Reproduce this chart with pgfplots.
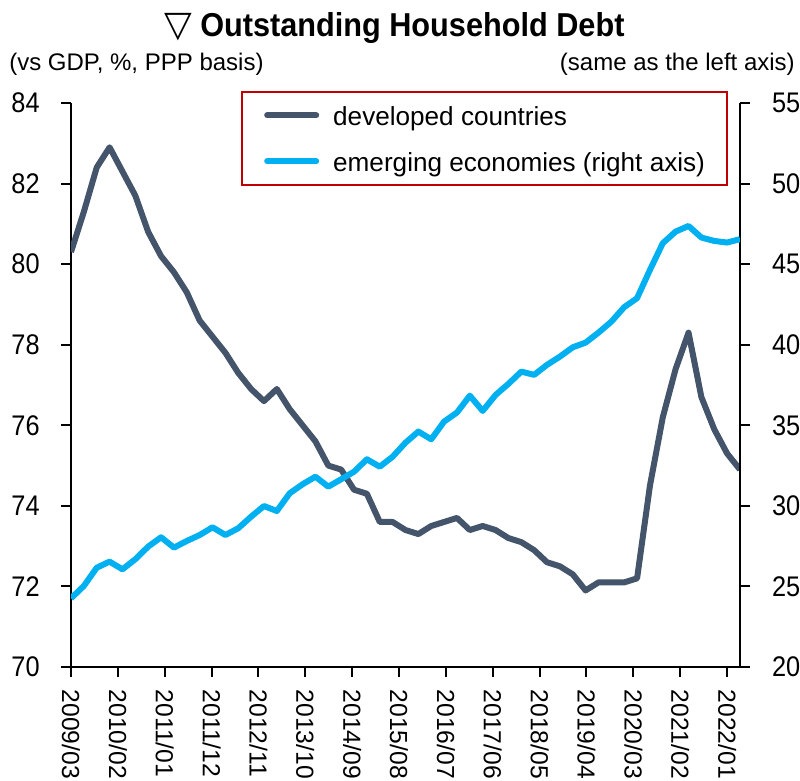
\documentclass[border=0pt]{standalone}
\usepackage{fontspec}
\setmainfont{Liberation Sans}
\newfontfamily\dejavu{DejaVu Sans}
\usepackage{pgfplots}
\usepackage{pgfplotstable}
\pgfplotsset{compat=1.18}
\definecolor{devc}{HTML}{44546A}
\definecolor{emgc}{HTML}{00B0F0}
\definecolor{legred}{HTML}{C00000}

\pgfplotstableread{
i dev emg
0 80.3 24.26
1 81.3 25.03
2 82.4 26.16
3 82.9 26.54
4 82.3 26.06
5 81.7 26.69
6 80.8 27.47
7 80.2 28.05
8 79.8 27.41
9 79.3 27.82
10 78.6 28.19
11 78.2 28.67
12 77.8 28.19
13 77.3 28.61
14 76.9 29.33
15 76.6 29.99
16 76.9 29.68
17 76.4 30.78
18 76.0 31.34
19 75.6 31.81
20 75.0 31.19
21 74.9 31.65
22 74.4 32.12
23 74.3 32.89
24 73.6 32.43
25 73.6 33.05
26 73.4 33.92
27 73.3 34.61
28 73.5 34.13
29 73.6 35.23
30 73.7 35.79
31 73.4 36.84
32 73.5 35.89
33 73.4 36.88
34 73.2 37.57
35 73.1 38.33
36 72.9 38.13
37 72.6 38.75
38 72.5 39.26
39 72.3 39.84
40 71.9 40.13
41 72.1 40.75
42 72.1 41.43
43 72.1 42.33
44 72.2 42.89
45 74.5 44.64
46 76.2 46.30
47 77.4 47.02
48 78.3 47.37
49 76.7 46.65
50 75.9 46.44
51 75.3 46.34
52 74.9 46.55
}\datatable

\begin{document}
\begin{tikzpicture}
\pgfplotsset{
  common/.style={
    scale only axis, width=501.75pt, height=423pt,
    at={(0pt,0pt)}, anchor=south west,
    xmin=0, xmax=52,
    tick align=outside, major tick length=7.5pt,
    axis line style={line width=1.5pt, black, -},
    major tick style={line width=1.5pt, black},
    /pgf/number format/assume math mode=true,
  }
}
\begin{axis}[common,
  axis x line*=bottom, axis y line*=left,
  ymin=70, ymax=84, ytick={70,72,...,84},
  yticklabel style={font=\fontsize{19pt}{22pt}\selectfont, xshift=-12.5pt, yscale=1.12},
  xtick={0,3.6425,7.285,10.9275,14.57,18.2125,21.855,25.4975,29.14,32.7825,36.425,40.0675,43.71,47.3525,50.995},
  xticklabels={2009/03,2010/02,2011/01,2011/12,2012/11,2013/10,2014/09,2015/08,2016/07,2017/06,2018/05,2019/04,2020/03,2021/02,2022/01},
  xticklabel style={rotate=-90, anchor=west, font=\fontsize{18.5pt}{20pt}\selectfont},
  xticklabel shift=6pt,
]
\addplot[devc, line width=4.5pt, line join=round] table[x=i,y=dev]{\datatable};
\end{axis}
\begin{axis}[common,
  axis x line=none, axis y line*=right,
  ymin=20, ymax=55, ytick={20,25,...,55},
  yticklabel style={font=\fontsize{19pt}{22pt}\selectfont, xshift=13pt, yscale=1.12},
  legend image code/.code={\draw[#1, line cap=round] (0pt,0pt) -- (36.75pt,0pt);},
  legend cell align=left,
  legend style={at={(rel axis cs:0.9821,1.0218)}, anchor=north east,
    draw=legred, line width=1.5pt, fill=white,
    inner xsep=16.5pt, inner ysep=8.5pt,
    font=\fontsize{19.6pt}{23pt}\selectfont,
    row sep=16pt, column sep=10.5pt,
    nodes={inner sep=0pt, text height=17pt, text depth=1.5pt}},
]
\addlegendimage{devc, line width=4.5pt}
\addlegendentry{developed countries}
\addplot[emgc, line width=4.5pt, line join=round] table[x=i,y=emg]{\datatable};
\addlegendentry{emerging economies (right axis)}
\end{axis}
\node[anchor=base, inner sep=0pt, font=\fontsize{27pt}{28pt}\selectfont] at (80.25pt,472.5pt) {\dejavu ▽};
\node[anchor=base west, inner sep=0pt, font=\fontsize{23pt}{28pt}\selectfont\bfseries, yscale=1.08] at (96.75pt,472.5pt) {Outstanding Household Debt};
\node[anchor=base west, inner sep=0pt, font=\fontsize{18pt}{21pt}\selectfont] at (-46.5pt,447pt) {(vs GDP, \%, PPP basis)};
\node[anchor=base east, inner sep=0pt, font=\fontsize{18pt}{21pt}\selectfont] at (543pt,447pt) {(same as the left axis)};
\pgfresetboundingbox
\path[use as bounding box] (-53.25pt,-85.5pt) rectangle (546.75pt,500.25pt);
\end{tikzpicture}
\end{document}
